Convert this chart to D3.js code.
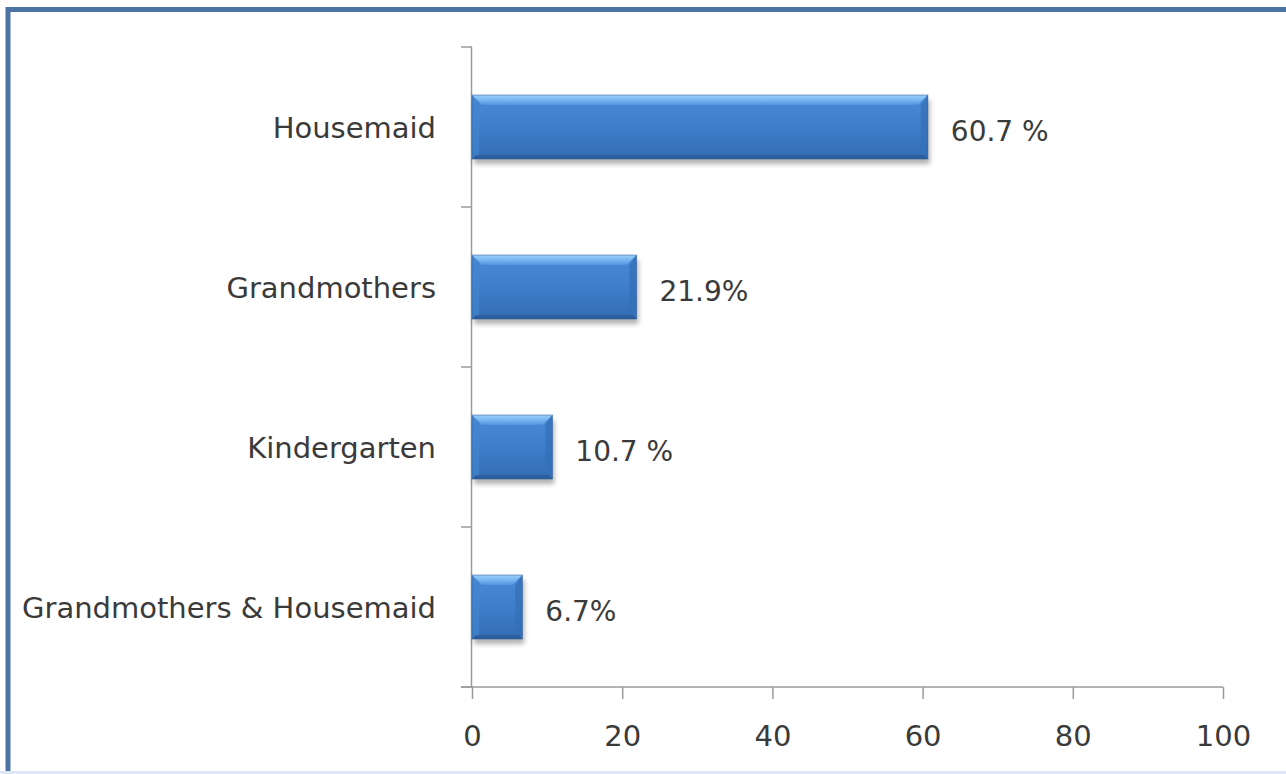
<!DOCTYPE html>
<html><head><meta charset="utf-8">
<script src="https://cdn.jsdelivr.net/npm/d3@7"></script>
<style>html,body{margin:0;padding:0;background:#fff;}svg{display:block;}</style>
</head><body>
<script>
const categories = ["Housemaid", "Grandmothers", "Kindergarten", "Grandmothers & Housemaid"];
const values = [60.7, 21.9, 10.7, 6.7];
const valueLabels = ["60.7 %", "21.9%", "10.7 %", "6.7%"];
const xTicks = [0, 20, 40, 60, 80, 100];

const W = 1286, H = 774;
const svg = d3.select("body").append("svg").attr("width", W).attr("height", H);
const defs = svg.append("defs");

const grad = defs.append("linearGradient").attr("id", "barGrad").attr("x1", 0).attr("y1", 0).attr("x2", 0).attr("y2", 1);
[[0, "#4a8bd6"], [0.5, "#3e7ecb"], [1, "#336cb2"]].forEach(([o, c]) => grad.append("stop").attr("offset", o).attr("stop-color", c));
const topGrad = defs.append("linearGradient").attr("id", "topGrad").attr("x1", 0).attr("y1", 0).attr("x2", 0).attr("y2", 1);
[[0, "#9ad0fa"], [0.6, "#70b0ee"], [1, "#5193dd"]].forEach(([o, c]) => topGrad.append("stop").attr("offset", o).attr("stop-color", c));
const blur = defs.append("filter").attr("id", "shadow").attr("x", "-10%").attr("y", "-30%").attr("width", "120%").attr("height", "160%");
blur.append("feGaussianBlur").attr("stdDeviation", 2.5);

// frame
svg.append("rect").attr("x", 8).attr("y", 9.5).attr("width", W + 20).attr("height", H + 20)
  .attr("fill", "none").attr("stroke", "#4d73a4").attr("stroke-width", 5);
svg.append("line").attr("x1", 0).attr("x2", W).attr("y1", 772.5).attr("y2", 772.5).attr("stroke", "#dde8f4").attr("stroke-width", 3);

const margin = {left: 472, right: 63, top: 47, bottom: 87};
const x = d3.scaleLinear().domain([0, 100]).range([margin.left, W - margin.right]);
const y = d3.scaleBand().domain(categories).range([margin.top, H - margin.bottom]).paddingInner(0.6).paddingOuter(0.3);
const yOuter = d3.scaleBand().domain(categories).range([margin.top, H - margin.bottom]);

const font = "'DejaVu Sans', sans-serif";
const fsLabel = 29, fsValue = 28;
const txtCol = "#3a3a3a";
const axisCol = "#9a9a9a";

// y axis
const yAxisG = svg.append("g");
yAxisG.append("line").attr("x1", x(0) - 0.5).attr("x2", x(0) - 0.5).attr("y1", margin.top).attr("y2", H - margin.bottom)
  .attr("stroke", axisCol).attr("stroke-width", 1.5);
const yTickPos = categories.map(c => yOuter(c)).concat([H - margin.bottom]);
yAxisG.selectAll("line.t").data(yTickPos).join("line").attr("class", "t")
  .attr("x1", x(0) - 11).attr("x2", x(0)).attr("y1", d => d).attr("y2", d => d)
  .attr("stroke", axisCol).attr("stroke-width", 1.5);
yAxisG.selectAll("text").data(categories).join("text")
  .attr("x", x(0) - 36).attr("y", d => y(d) + y.bandwidth() / 2 + 11)
  .attr("text-anchor", "end")
  .attr("font-family", font).attr("font-size", fsLabel).attr("fill", txtCol).text(d => d);

// x axis
const xAxis = d3.axisBottom(x).tickValues(xTicks).tickSize(12).tickPadding(16);
const xg = svg.append("g").attr("transform", `translate(0,${H - margin.bottom})`).call(xAxis);
xg.select(".domain").remove();
xg.append("line").attr("x1", x(0) - 11).attr("x2", x(100)).attr("stroke", axisCol).attr("stroke-width", 1.5);
xg.selectAll(".tick line").attr("stroke", axisCol).attr("stroke-width", 1.5);
xg.selectAll(".tick text").attr("dy", null).attr("y", 59)
  .attr("font-family", font).attr("font-size", fsLabel).attr("fill", txtCol);

// bars
const bev = 10;
const bars = svg.append("g").selectAll("g").data(categories).join("g");
bars.append("rect").attr("x", x(0) + 2).attr("y", d => y(d) + 5).attr("width", (d, i) => x(values[i]) - x(0))
  .attr("height", y.bandwidth()).attr("fill", "#000").attr("opacity", 0.3).attr("filter", "url(#shadow)");
bars.append("rect").attr("x", x(0)).attr("y", d => y(d)).attr("width", (d, i) => x(values[i]) - x(0))
  .attr("height", y.bandwidth()).attr("fill", "url(#barGrad)");
// top highlight bevel
bars.append("path").attr("d", (d, i) => {
  const x0 = x(0), x1 = x(values[i]), y0 = y(d);
  return `M${x0},${y0}L${x1},${y0}L${x1 - bev},${y0 + bev}L${x0 + bev},${y0 + bev}Z`;
}).attr("fill", "url(#topGrad)");
// right bevel (slightly darker)
bars.append("path").attr("d", (d, i) => {
  const x1 = x(values[i]), y0 = y(d), y1 = y0 + y.bandwidth();
  return `M${x1},${y0}L${x1},${y1}L${x1 - bev * 0.7},${y1 - 4}L${x1 - bev * 0.7},${y0 + bev}Z`;
}).attr("fill", "#3570b8").attr("opacity", 0.8);
// left bevel (subtle)
bars.append("path").attr("d", (d, i) => {
  const x0 = x(0), y0 = y(d), y1 = y0 + y.bandwidth();
  return `M${x0},${y0}L${x0 + bev * 0.7},${y0 + bev}L${x0 + bev * 0.7},${y1 - 4}L${x0},${y1}Z`;
}).attr("fill", "#4384cf").attr("opacity", 0.7);
// bottom darker edge
bars.append("path").attr("d", (d, i) => {
  const x0 = x(0), x1 = x(values[i]), y1 = y(d) + y.bandwidth();
  return `M${x0},${y1}L${x1},${y1}L${x1 - 4},${y1 - 4}L${x0 + 4},${y1 - 4}Z`;
}).attr("fill", "#2c5d9c");
bars.append("rect").attr("x", x(0)).attr("y", d => y(d)).attr("width", (d, i) => x(values[i]) - x(0))
  .attr("height", y.bandwidth()).attr("fill", "none").attr("stroke", "#2f5f9c").attr("stroke-width", 0.8).attr("opacity", 0.7);

// value labels
bars.append("text").attr("x", (d, i) => x(values[i]) + 23).attr("y", d => y(d) + y.bandwidth() / 2 + 14)
  .attr("font-family", font).attr("font-size", fsValue).attr("fill", txtCol)
  .text((d, i) => valueLabels[i]);
</script>
</body></html>
